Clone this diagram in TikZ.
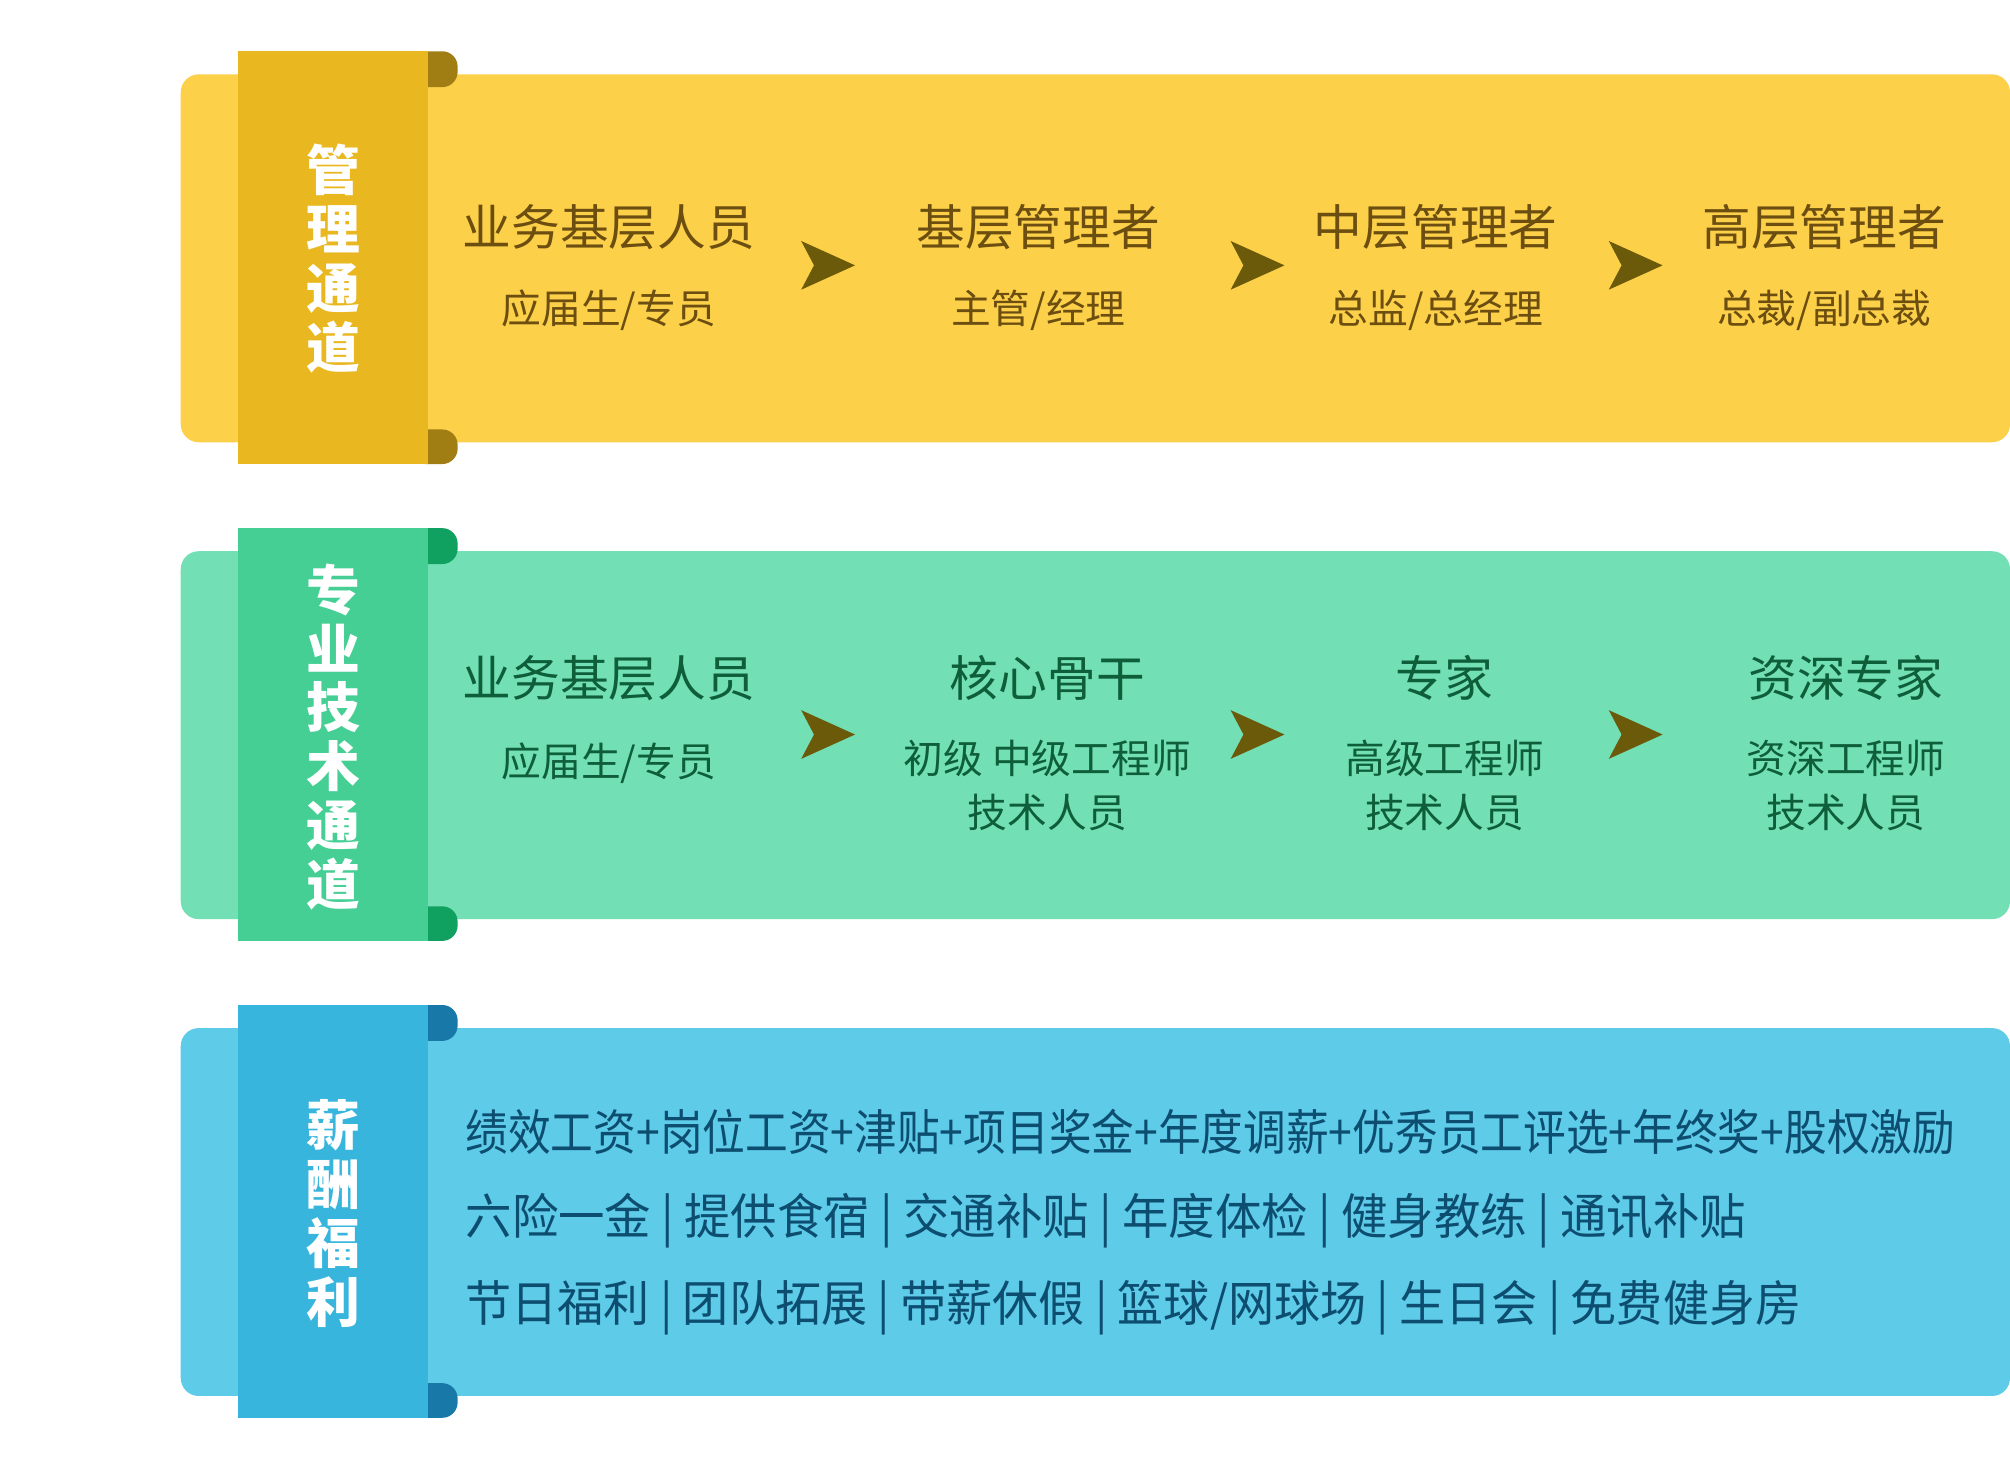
\documentclass[tikz,border=0pt]{standalone}
\usepackage{fontspec}
\setmainfont{Noto Sans CJK SC}
\usetikzlibrary{positioning}
\definecolor{yband}{HTML}{FDD04A}\definecolor{ytab}{HTML}{E9B820}\definecolor{yfold}{HTML}{A07E14}\definecolor{ytxt}{HTML}{6B4E10}\definecolor{yarr}{HTML}{6B5A0A}
\definecolor{gband}{HTML}{72E0B4}\definecolor{gtab}{HTML}{45CF95}\definecolor{gfold}{HTML}{10A060}\definecolor{gtxt}{HTML}{0E5E3A}
\definecolor{bband}{HTML}{5ECBE9}\definecolor{btab}{HTML}{38B5DC}\definecolor{bfold}{HTML}{1878A8}\definecolor{btxt}{HTML}{0D4E70}
\tikzset{
 ttl/.style={font=\fontsize{38}{40}\selectfont, inner sep=0pt},
 sub/.style={font=\fontsize{31}{42}\selectfont, inner sep=0pt, align=center},
 vert/.style={font=\fontsize{42}{46}\selectfont\bfseries, text=white, align=center, inner sep=0pt},
 line3/.style={font=\fontsize{38}{40}\selectfont, text=btxt, anchor=west, inner sep=0pt},
}
\newcommand{\bandshape}[6]{%
 \fill[#4,rounded corners=14pt] (141,#1) rectangle (1568,#2);
 \fill[#6,rounded corners=12pt] (320,#1-18) rectangle (357,#1+10);
 \fill[#6,rounded corners=12pt] (320,#2-10) rectangle (357,#2+17);
 \fill[#5] (186,#1-18) rectangle (334,#2+17);
}
\newcommand{\arr}[3]{\fill[#3] (#1,#2-19) -- (#1+42,#2) -- (#1,#2+19) -- (#1+10,#2) -- cycle;}
\begin{document}
\begin{tikzpicture}[x=1pt,y=-1pt]
\useasboundingbox (0,0) rectangle (1568,1147);
\fill[white] (0,0) rectangle (1568,1147);
% band 1
\bandshape{58}{345}{}{yband}{ytab}{yfold}
\node[vert] (v1) at (260,202) {管\\理\\通\\道};
\node[ttl,text=ytxt] (ma) at (475,177) {业务基层人员};
\node[sub,text=ytxt] (msa) at (475,242) {应届生/专员};
\node[ttl,text=ytxt] (mb) at (810,177) {基层管理者};
\node[sub,text=ytxt] (msb) at (810,242) {主管/经理};
\node[ttl,text=ytxt] (mc) at (1120,177) {中层管理者};
\node[sub,text=ytxt] (msc) at (1120,242) {总监/总经理};
\node[ttl,text=ytxt] (md) at (1423,177) {高层管理者};
\node[sub,text=ytxt] (msd) at (1423,242) {总裁/副总裁};
\arr{625}{207}{yarr}\arr{960}{207}{yarr}\arr{1255}{207}{yarr}
% band 2
\bandshape{430}{717}{}{gband}{gtab}{gfold}
\node[vert] (v2) at (260,575) {专\\业\\技\\术\\通\\道};
\node[ttl,text=gtxt] (pa) at (475,529) {业务基层人员};
\node[sub,text=gtxt] (psa) at (475,595) {应届生/专员};
\node[ttl,text=gtxt] (pb) at (817,529) {核心骨干};
\node[sub,text=gtxt,anchor=north] (psb) at (817,577) {初级 中级工程师\\技术人员};
\node[ttl,text=gtxt] (pc) at (1127,529) {专家};
\node[sub,text=gtxt,anchor=north] (psc) at (1127,577) {高级工程师\\技术人员};
\node[ttl,text=gtxt] (pd) at (1440,529) {资深专家};
\node[sub,text=gtxt,anchor=north] (psd) at (1440,577) {资深工程师\\技术人员};
\arr{625}{573}{yarr}\arr{960}{573}{yarr}\arr{1255}{573}{yarr}
% band 3
\bandshape{802}{1089}{}{bband}{btab}{bfold}
\node[vert] (v3) at (260,947) {薪\\酬\\福\\利};
\node[line3] (l1) at (363,883) {\resizebox{1162pt}{\height}{绩效工资+岗位工资+津贴+项目奖金+年度调薪+优秀员工评选+年终奖+股权激励}};
\node[line3] (l2) at (363,952) {\resizebox{999pt}{\height}{六险一金 | 提供食宿 | 交通补贴 | 年度体检 | 健身教练 | 通讯补贴}};
\node[line3] (l3) at (363,1020) {\resizebox{1042pt}{\height}{节日福利 | 团队拓展 | 带薪休假 | 篮球/网球场 | 生日会 | 免费健身房}};
\end{tikzpicture}
\end{document}
